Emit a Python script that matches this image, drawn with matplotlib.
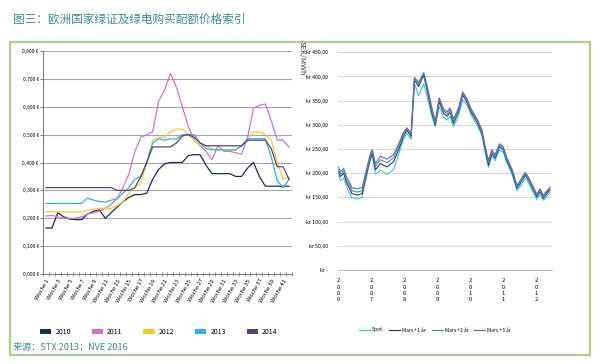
import matplotlib.pyplot as plt
from matplotlib.patches import Rectangle, Patch
from matplotlib.lines import Line2D

plt.rcParams['font.family'] = ['Noto Sans CJK SC', 'DejaVu Sans']

# ---- left chart: certificate price per week, 2010-2014
weeks = list(range(1, 43))
week_labels = [f'Woche {w}' for w in range(1, 42, 2)]
years = ['2010', '2011', '2012', '2013', '2014']
p2010 = [.165, .165, .22, .205, .197, .195, .195, .215, .225, .23, .20, .22, .24, .26, .275, .285, .285, .29, .34, .375,
         .395, .40, .40, .40, .425, .428, .428, .39, .36, .36, .36, .36, .35, .35, .38, .40, .35, .315, .315, .315, .315, .315]
p2011 = [.208, .21, .205, .20, .20, .20, .205, .215, .22, .225, .235, .25, .27, .31, .36, .44, .49, .50, .51, .62,
         .66, .72, .67, .60, .53, .48, .46, .44, .41, .46, .44, .44, .435, .43, .49, .595, .605, .61, .55, .48, .48, .455]
p2012 = [.223, .223, .223, .223, .223, .223, .223, .228, .232, .235, .235, .235, .245, .26, .29, .31, .325, .40, .48, .49,
         .49, .51, .52, .52, .50, .48, .46, .46, .45, .445, .445, .445, .445, .46, .48, .51, .51, .50, .48, .40, .34, .345]
p2013 = [.253, .253, .253, .253, .253, .253, .253, .272, .265, .26, .258, .265, .27, .29, .31, .34, .35, .40, .47, .485,
         .48, .485, .485, .50, .50, .50, .47, .45, .445, .445, .445, .445, .445, .46, .485, .485, .485, .485, .42, .335, .31, .34]
p2014 = [.31, .31, .31, .31, .31, .31, .31, .31, .31, .31, .31, .31, .30, .30, .30, .31, .35, .40, .456, .456,
         .456, .456, .47, .495, .50, .49, .47, .46, .46, .46, .46, .46, .46, .46, .48, .48, .48, .48, .45, .385, .385, .34]
year_colors = ['#1c2a5c', '#d86fcf', '#f5cc2a', '#2bb3e3', '#5a4578']

# ---- right chart: SEK/MWh, spot and forwards
dates = [2006.02, 2006.07, 2006.17, 2006.27, 2006.34, 2006.42, 2006.57, 2006.73, 2006.82, 2006.92,
         2006.98, 2007.04, 2007.13, 2007.28, 2007.48, 2007.68, 2007.83, 2007.98, 2008.08, 2008.21,
         2008.31, 2008.44, 2008.59, 2008.69, 2008.84, 2008.94, 2009.06, 2009.19, 2009.30, 2009.39,
         2009.49, 2009.64, 2009.77, 2009.89, 2010.04, 2010.20, 2010.35, 2010.45, 2010.55, 2010.65,
         2010.75, 2010.88, 2011.00, 2011.10, 2011.26, 2011.41, 2011.51, 2011.66, 2011.76, 2011.86,
         2012.01, 2012.11, 2012.21, 2012.31, 2012.41]
spot = [196, 185, 190, 170, 160, 150, 147, 150, 180, 210, 228, 236, 198, 206, 198, 208, 238, 270, 283, 270,
        385, 360, 385, 360, 318, 296, 338, 316, 310, 318, 296, 318, 352, 342, 318, 300, 278, 242, 212, 236,
        226, 248, 243, 222, 198, 164, 173, 190, 180, 166, 146, 156, 144, 152, 160]
mars1 = [203, 193, 200, 179, 170, 158, 155, 158, 186, 215, 231, 241, 207, 220, 213, 224, 248, 276, 289, 276,
         393, 379, 403, 372, 324, 300, 348, 324, 318, 326, 303, 326, 362, 348, 324, 306, 283, 248, 217, 241,
         231, 255, 248, 227, 203, 169, 179, 196, 186, 172, 151, 162, 148, 158, 165]
mars2 = [208, 198, 205, 184, 176, 164, 161, 164, 191, 219, 236, 245, 214, 228, 222, 232, 255, 281, 292, 280,
         396, 384, 406, 378, 330, 304, 352, 329, 323, 331, 308, 330, 365, 352, 328, 310, 287, 252, 222, 245,
         235, 258, 251, 230, 206, 172, 182, 199, 189, 175, 154, 165, 151, 161, 168]
mars3 = [213, 203, 210, 190, 182, 170, 168, 170, 196, 224, 241, 249, 220, 235, 229, 238, 260, 285, 294, 283,
         398, 388, 408, 382, 335, 308, 356, 333, 327, 335, 312, 334, 368, 355, 331, 313, 290, 256, 226, 249,
         238, 261, 254, 233, 209, 175, 185, 202, 192, 178, 157, 168, 154, 164, 171]
fwd_names = ['Spot', 'Mars +1 år', 'Mars +2 år', 'Mars +3 år']
fwd_colors = ['#3fc3dc', '#2c3c68', '#4f8ea0', '#6468b0']
tick_years = [2006, 2007, 2008, 2009, 2010, 2011, 2012]

teal = '#3f8c8e'
W, H = 600, 364
fig = plt.figure(figsize=(6, 3.64), dpi=100)
fig.patch.set_facecolor('white')

fig.text(13 / W, 1 - 19 / H, '图三：欧洲国家绿证及绿电购买配额价格索引', fontsize=8.4,
         color=teal, ha='left', va='center', fontweight='medium')
fig.patches.append(Rectangle((10 / W, 1 - 355 / H), 580 / W, 313 / H, transform=fig.transFigure,
                             fill=False, edgecolor='#a9d38a', lw=1.6))
fig.text(13 / W, 1 - 347 / H, '来源：STX 2013；NVE 2016', fontsize=6.6, color=teal,
         ha='left', va='center')

# left chart
ax = fig.add_axes([43 / W, 1 - 274 / H, 249 / W, 223 / H])
for vals, c in zip([p2010, p2011, p2012, p2013, p2014], year_colors):
    ax.plot(weeks, vals, color=c, lw=0.9)
ax.set_xlim(0.5, 42.5)
ax.set_ylim(0, 0.8)
yt = [i / 10 for i in range(9)]
ax.set_yticks(yt)
ax.set_yticklabels([f'{v:.3f}'.replace('.', ',') + ' €' for v in yt], fontsize=3.6)
ax.yaxis.grid(True, color='#a6a6a6', lw=0.8)
ax.set_axisbelow(True)
ax.set_xticks(range(1, 42, 2))
ax.set_xticklabels(week_labels, rotation=60, ha='right', va='top', rotation_mode='anchor',
                   fontsize=4.2, style='italic')
ax.set_xticks([w + 0.5 for w in range(0, 43)], minor=True)
ax.tick_params(axis='x', which='major', length=0, pad=3)
ax.tick_params(axis='x', which='minor', length=2.5, direction='inout', color='#808080')
ax.tick_params(axis='y', length=2, color='#808080', pad=1)
for s in ['top', 'right']:
    ax.spines[s].set_visible(False)
for s in ['left', 'bottom']:
    ax.spines[s].set_color('#808080')
    ax.spines[s].set_linewidth(0.8)

handles = [Patch(facecolor=c, edgecolor='none') for c in year_colors]
fig.legend(handles, years, loc='center left', bbox_to_anchor=(34 / W, 1 - 332 / H), ncol=5,
           frameon=False, fontsize=5, handlelength=1.6, handleheight=0.9, handletextpad=0.6,
           columnspacing=3.0)

# right chart
ax2 = fig.add_axes([338 / W, 1 - 270 / H, 214 / W, 217.7 / H])
for vals, c, n in zip([spot, mars1, mars2, mars3], fwd_colors, fwd_names):
    ax2.plot(dates, vals, color=c, lw=0.8, label=n)
ax2.set_xlim(2006.0, 2012.47)
ax2.set_ylim(0, 450)
ax2.set_yticks(range(0, 451, 50))
ax2.set_yticklabels(['kr -'] + [f'kr {v},00' for v in range(50, 451, 50)], fontsize=3.8)
ax2.yaxis.grid(True, color='#d9d9d9', lw=0.8)
ax2.set_axisbelow(True)
ax2.set_xticks(tick_years)
ax2.set_xticklabels(['\n'.join(str(y)) for y in tick_years], fontsize=4.2, linespacing=1.3)
ax2.tick_params(axis='both', length=0)
ax2.tick_params(axis='y', pad=7)
ax2.tick_params(axis='x', pad=6)
for s in ['top', 'right', 'left']:
    ax2.spines[s].set_visible(False)
ax2.spines['bottom'].set_color('#bfbfbf')
ax2.spines['bottom'].set_linewidth(0.8)
fig.text(302 / W, 1 - 58 / H, 'SEK/MWh', rotation=-90, fontsize=5.5, color='#404040',
         ha='center', va='center')
fig.legend([Line2D([], [], color=c, lw=0.9) for c in fwd_colors], fwd_names, loc='center',
           bbox_to_anchor=(435 / W, 1 - 330 / H), ncol=4, frameon=False, fontsize=3.6,
           handlelength=2.2, handletextpad=0.4, columnspacing=1.2)

fig.savefig('out.png', dpi=100)
